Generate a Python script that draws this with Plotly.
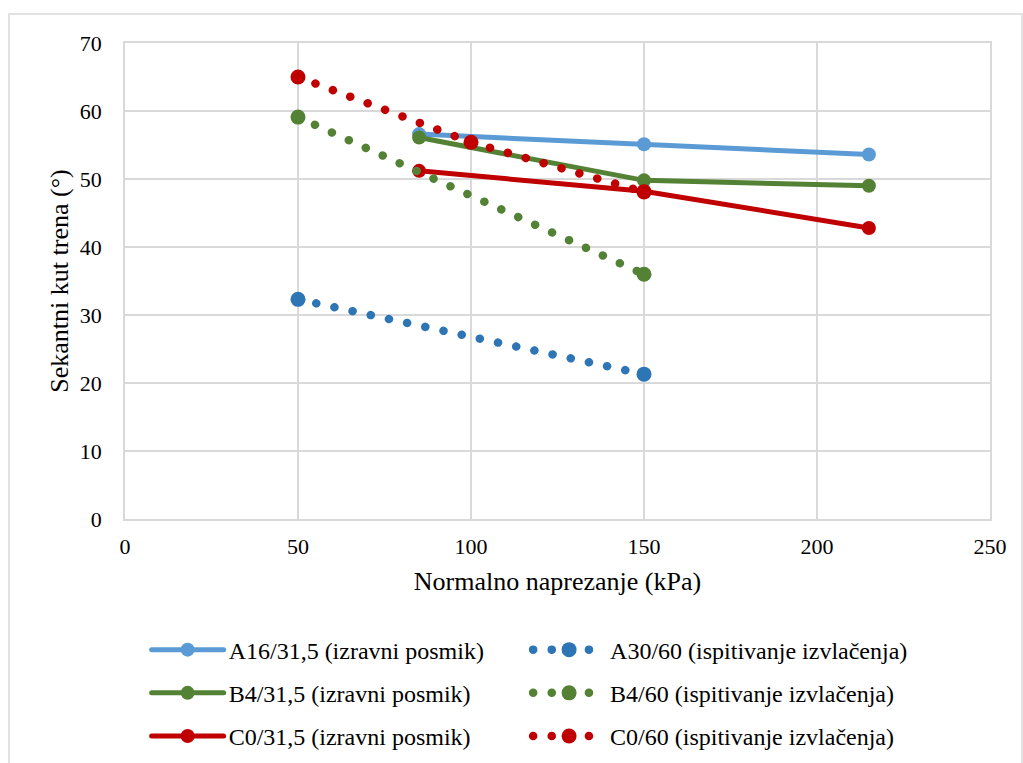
import plotly.graph_objects as go

# ---- data ----
x_a16 = [85, 150, 215]
y_a16 = [56.6, 55.1, 53.6]
x_b4 = [85, 150, 215]
y_b4 = [56.1, 49.8, 49.0]
x_c0 = [85, 150, 215]
y_c0 = [51.2, 48.2, 42.8]
x_a30 = [50, 150]
y_a30 = [32.3, 21.3]
x_b460 = [50, 150]
y_b460 = [59.1, 36.0]
x_c060 = [50, 100, 150]
y_c060 = [65.0, 55.4, 48.1]

names = ["A16/31,5 (izravni posmik)", "B4/31,5 (izravni posmik)", "C0/31,5 (izravni posmik)",
         "A30/60 (ispitivanje izvlačenja)", "B4/60 (ispitivanje izvlačenja)", "C0/60 (ispitivanje izvlačenja)"]
x_ticks = [0, 50, 100, 150, 200, 250]
y_ticks = [0, 10, 20, 30, 40, 50, 60, 70]

FONT = "Times New Roman, Liberation Serif, serif"
BLUE_L = "#5B9BD5"
BLUE_D = "#2E75B6"
GREEN = "#548235"
RED = "#C00000"
DOT = "0.1px,18.5px"

fig = go.Figure()

def solid(x, y, name, color, leg):
    fig.add_trace(go.Scatter(x=x, y=y, name=name, mode="lines+markers",
                             line=dict(color=color, width=5),
                             marker=dict(color=color, size=14),
                             legend=leg, legendgroup=name))

def dotted(x, y, name, color, leg):
    fig.add_trace(go.Scatter(x=x, y=y, name=name, mode="lines+markers",
                             line=dict(color=color, width=8.5, dash=DOT),
                             marker=dict(color=color, size=15),
                             legend=leg, legendgroup=name))

solid(x_a16, y_a16, names[0], BLUE_L, "legend")
solid(x_b4, y_b4, names[1], GREEN, "legend")
solid(x_c0, y_c0, names[2], RED, "legend")
dotted(x_a30, y_a30, names[3], BLUE_D, "legend2")
dotted(x_b460, y_b460, names[4], GREEN, "legend2")
dotted(x_c060, y_c060, names[5], RED, "legend2")

GRID = "#D9D9D9"
f22 = dict(family=FONT, size=22, color="black")
f24 = dict(family=FONT, size=24, color="black")
f26 = dict(family=FONT, size=26, color="black")
fig.update_layout(
    width=1023, height=763,
    margin=dict(l=125, r=33, t=43, b=244, autoexpand=False),
    paper_bgcolor="white", plot_bgcolor="white",
    font=f22,
    xaxis=dict(range=[0, 250], tickvals=x_ticks, showgrid=True, gridcolor=GRID, gridwidth=1.5,
               zeroline=False, showline=True, linecolor=GRID, linewidth=1.5, mirror=True,
               ticks="", ticklabelstandoff=7,
               title=dict(text="Normalno naprezanje (kPa)", font=f26, standoff=14),
               tickfont=f22),
    yaxis=dict(range=[0, 70], tickvals=y_ticks, showgrid=True, gridcolor=GRID, gridwidth=1.5,
               zeroline=False, showline=True, linecolor=GRID, linewidth=1.5, mirror=True,
               ticks="", ticklabelstandoff=17,
               title=dict(text="Sekantni kut trena (°)", font=f26, standoff=4),
               tickfont=f22),
    legend=dict(x=0.025, y=-0.228, xanchor="left", yanchor="top", orientation="v",
                tracegroupgap=9, itemwidth=72, font=f24, bgcolor="rgba(0,0,0,0)",
                itemclick=False),
    legend2=dict(x=0.466, y=-0.228, xanchor="left", yanchor="top", orientation="v",
                 tracegroupgap=9, itemwidth=72, font=f24, bgcolor="rgba(0,0,0,0)",
                 itemclick=False),
    shapes=[dict(type="rect", xref="paper", yref="paper",
                 x0=(9 - 125) / 865, x1=(1022 - 125) / 865,
                 y0=(519 - 790) / 476, y1=(519 - 14) / 476,
                 line=dict(color=GRID, width=1.5), fillcolor="rgba(0,0,0,0)", layer="below")],
)

post = """
document.body.style.margin='0';
var s=document.createElement('style');
s.innerHTML='.js-line{stroke-linecap:round !important;}';
document.head.appendChild(s);
"""
fig.write_html("out.html", post_script=post, config={"displayModeBar": False})
